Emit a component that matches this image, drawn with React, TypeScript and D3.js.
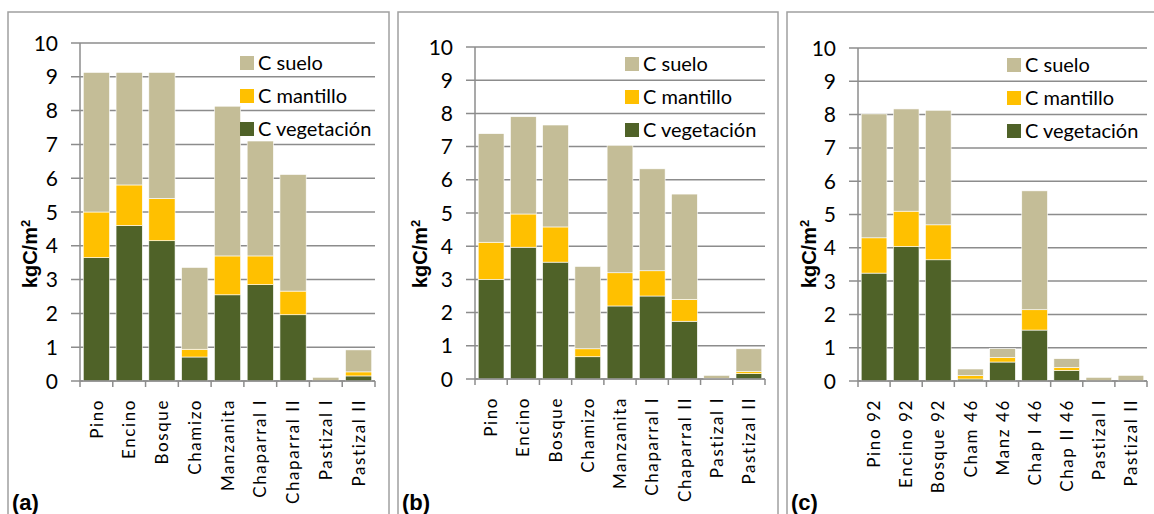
import { useEffect, useRef } from "react";
import * as d3 from "d3";

// panel (a) and (b): same categories
const CATS_AB = ["Pino", "Encino", "Bosque", "Chamizo", "Manzanita", "Chaparral I", "Chaparral II", "Pastizal I", "Pastizal II"];
const CATS_C = ["Pino 92", "Encino 92", "Bosque 92", "Cham 46", "Manz 46", "Chap I 46", "Chap II 46", "Pastizal I", "Pastizal II"];

// kgC/m2 per component (stack order: vegetación, mantillo, suelo)
const VEG_A = [3.65, 4.6, 4.15, 0.71, 2.55, 2.85, 1.96, 0.0, 0.15];
const MANT_A = [1.35, 1.2, 1.25, 0.23, 1.15, 0.85, 0.7, 0.0, 0.12];
const SUELO_A = [4.13, 3.33, 3.73, 2.42, 4.43, 3.4, 3.45, 0.11, 0.65];

const VEG_B = [3.0, 3.97, 3.52, 0.67, 2.2, 2.5, 1.74, 0.01, 0.16];
const MANT_B = [1.12, 1.0, 1.06, 0.24, 1.0, 0.76, 0.66, 0.0, 0.06];
const SUELO_B = [3.27, 2.93, 3.07, 2.48, 3.84, 3.07, 3.17, 0.1, 0.69];

const VEG_C = [3.24, 4.04, 3.64, 0.06, 0.57, 1.53, 0.32, 0.0, 0.0];
const MANT_C = [1.06, 1.06, 1.05, 0.1, 0.14, 0.61, 0.09, 0.0, 0.0];
const SUELO_C = [3.72, 3.07, 3.44, 0.2, 0.26, 3.57, 0.26, 0.11, 0.17];

const Y_TICKS = [0, 1, 2, 3, 4, 5, 6, 7, 8, 9, 10];
const SERIES = ["C vegetación", "C mantillo", "C suelo"];
const COLORS: Record<string, string> = {
  "C vegetación": "#4F6228",
  "C mantillo": "#FFC000",
  "C suelo": "#C4BD97",
};

interface PanelDef {
  tag: string;
  cats: string[];
  veg: number[];
  mant: number[];
  suelo: number[];
  frame: [number, number];
  x0: number;
  x1: number;
  yTop: number;
  yBot: number;
  legendX: number;
  legendY: number;
}

const PANELS: PanelDef[] = [
  { tag: "(a)", cats: CATS_AB, veg: VEG_A, mant: MANT_A, suelo: SUELO_A, frame: [8, 389], x0: 80, x1: 375, yTop: 43, yBot: 381, legendX: 240, legendY: 63 },
  { tag: "(b)", cats: CATS_AB, veg: VEG_B, mant: MANT_B, suelo: SUELO_B, frame: [398, 778], x0: 475, x1: 765, yTop: 47, yBot: 379, legendX: 625, legendY: 64 },
  { tag: "(c)", cats: CATS_C, veg: VEG_C, mant: MANT_C, suelo: SUELO_C, frame: [787, 1170], x0: 858, x1: 1147, yTop: 48, yBot: 381, legendX: 1007, legendY: 65 },
];

const NUM_FONT = "Lato, 'Open Sans', sans-serif";
const BOLD_FONT = "'Liberation Sans', Arial, sans-serif";

export default function App() {
  const ref = useRef<SVGSVGElement>(null);

  useEffect(() => {
    if (!ref.current) return;
    const svg = d3.select(ref.current);
    svg.selectAll("*").remove();

    svg.append("rect").attr("width", 1154).attr("height", 514).attr("fill", "#fff");

    PANELS.forEach((p) => {
      const g = svg.append("g");

      // frame
      g.append("rect")
        .attr("x", p.frame[0])
        .attr("y", 12)
        .attr("width", p.frame[1] - p.frame[0])
        .attr("height", 540)
        .attr("fill", "none")
        .attr("stroke", "#a0a0a0")
        .attr("stroke-width", 1.5);

      const y = d3.scaleLinear().domain([0, 10]).range([p.yBot, p.yTop]);
      const x = d3.scaleBand<string>().domain(p.cats).range([p.x0, p.x1]).paddingInner(0.2).paddingOuter(0.1);

      // gridlines + y ticks
      g.selectAll(".grid")
        .data(Y_TICKS)
        .enter()
        .append("line")
        .attr("x1", p.x0 - 9)
        .attr("x2", p.x1)
        .attr("y1", (d) => y(d))
        .attr("y2", (d) => y(d))
        .attr("stroke", "#8c8c8c")
        .attr("stroke-width", 1.5);

      g.selectAll(".ytl")
        .data(Y_TICKS)
        .enter()
        .append("text")
        .attr("x", p.x0 - 22)
        .attr("y", (d) => y(d))
        .attr("dy", "0.36em")
        .attr("text-anchor", "end")
        .style("font-family", NUM_FONT)
        .style("font-size", "21px")
        .style("fill", "#000")
        .text((d) => d);

      // y axis line
      g.append("line")
        .attr("x1", p.x0).attr("x2", p.x0)
        .attr("y1", p.yTop).attr("y2", p.yBot)
        .attr("stroke", "#8c8c8c").attr("stroke-width", 1.5);

      // x ticks at category boundaries
      const bounds = d3.range(p.cats.length + 1).map((i) => p.x0 + i * ((p.x1 - p.x0) / p.cats.length));
      g.selectAll(".xt")
        .data(bounds)
        .enter()
        .append("line")
        .attr("x1", (d) => d).attr("x2", (d) => d)
        .attr("y1", p.yBot).attr("y2", p.yBot + 6)
        .attr("stroke", "#8c8c8c").attr("stroke-width", 1.5);

      // stacked bars
      const rows = p.cats.map((c, i) => ({
        cat: c,
        "C vegetación": p.veg[i],
        "C mantillo": p.mant[i],
        "C suelo": p.suelo[i],
      }));
      const stack = d3.stack<any>().keys(SERIES)(rows);
      stack.forEach((layer) => {
        g.selectAll(null)
          .data(layer)
          .enter()
          .append("rect")
          .attr("x", (d: any) => x(d.data.cat)!)
          .attr("width", x.bandwidth())
          .attr("y", (d) => y(d[1]))
          .attr("height", (d) => Math.max(0, y(d[0]) - y(d[1])))
          .attr("fill", COLORS[layer.key])
          .attr("stroke", "#fff")
          .attr("stroke-width", 0.6);
      });

      // x axis line over bars
      g.append("line")
        .attr("x1", p.x0).attr("x2", p.x1)
        .attr("y1", p.yBot).attr("y2", p.yBot)
        .attr("stroke", "#8c8c8c").attr("stroke-width", 1.5);

      // x labels (rotated)
      g.selectAll(".xl")
        .data(p.cats)
        .enter()
        .append("text")
        .attr("transform", (d) => `translate(${x(d)! + x.bandwidth() / 2},${p.yBot + 18}) rotate(-90)`)
        .attr("text-anchor", "end")
        .attr("dy", "0.36em")
        .style("font-family", NUM_FONT)
        .style("font-size", "17px")
        .style("letter-spacing", "1.6px")
        .style("fill", "#000")
        .text((d) => d);

      // y title
      g.append("text")
        .attr("transform", `translate(${p.frame[0] + 29},${254}) rotate(-90)`)
        .attr("text-anchor", "middle")
        .style("font-family", BOLD_FONT)
        .style("font-weight", "bold")
        .style("font-size", "20px")
        .style("fill", "#000")
        .html("kgC/m<tspan dy='-7' font-size='13px'>2</tspan>");

      // legend
      const legend = [...SERIES].reverse();
      legend.forEach((s, i) => {
        const cy = p.legendY + i * 33;
        g.append("rect")
          .attr("x", p.legendX).attr("y", cy - 7)
          .attr("width", 14).attr("height", 14)
          .attr("fill", COLORS[s]);
        g.append("text")
          .attr("x", p.legendX + 18)
          .attr("y", cy)
          .attr("dy", "0.36em")
          .style("font-family", NUM_FONT)
          .style("font-size", "20px")
          .style("fill", "#000")
          .text(s);
      });

      // panel tag
      g.append("text")
        .attr("x", p.frame[0] + 4)
        .attr("y", 510)
        .style("font-family", BOLD_FONT)
        .style("font-weight", "bold")
        .style("font-size", "22px")
        .style("fill", "#000")
        .text(p.tag);
    });
  }, []);

  return (
    <svg
      ref={ref}
      width={1154}
      height={514}
      style={{ position: "absolute", left: 0, top: 0, display: "block" }}
    />
  );
}
